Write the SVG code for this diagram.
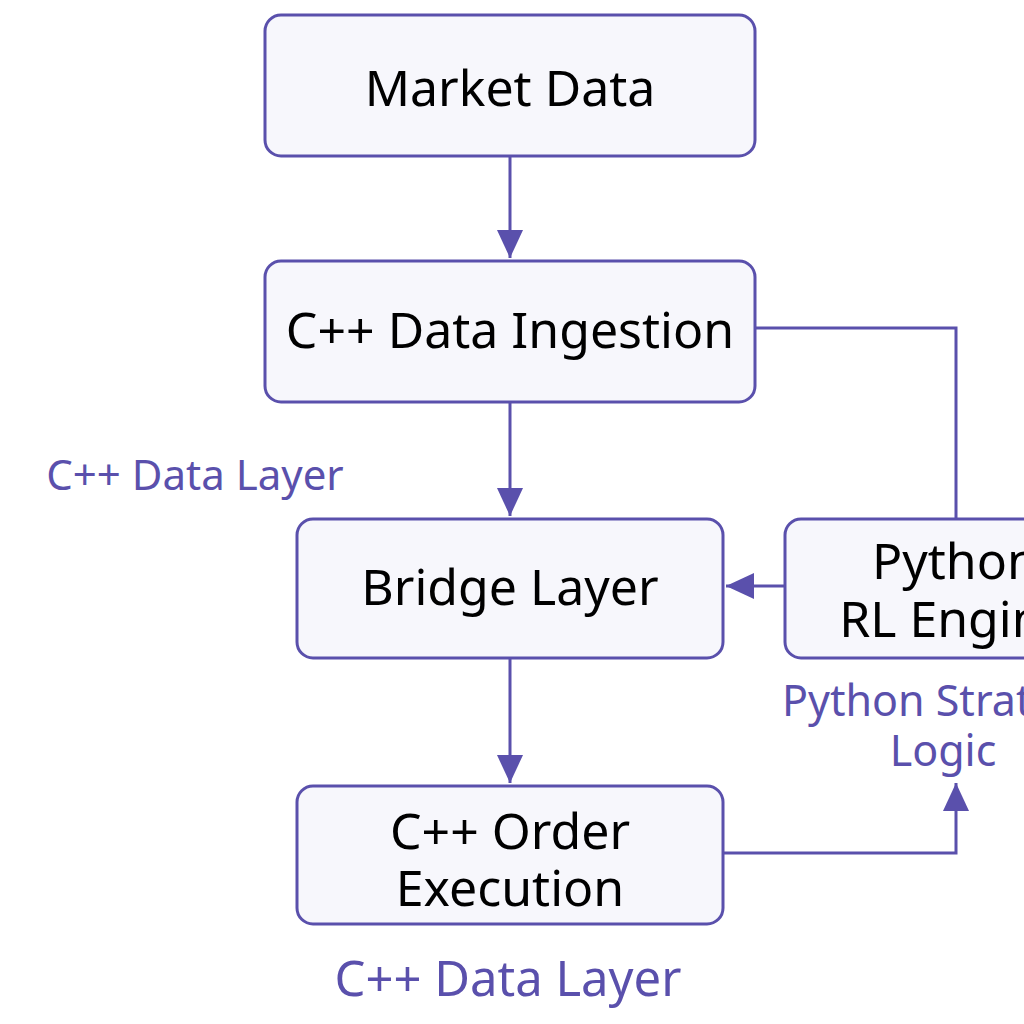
<svg xmlns="http://www.w3.org/2000/svg" width="1024" height="1024" viewBox="0 0 1024 1024">
<style>
.box{fill:#f7f7fc;stroke:#5a50ac;stroke-width:3}
.t{font-family:"Noto Sans","DejaVu Sans",sans-serif;font-size:50px;fill:#000;text-anchor:middle}
.lbl{font-family:"Noto Sans","DejaVu Sans",sans-serif;fill:#5a50ac;text-anchor:middle}
.c{fill:none;stroke:#5a50ac;stroke-width:3}
</style>
<defs>
<marker id="ah" viewBox="0 0 28 26" refX="28" refY="13" markerWidth="28" markerHeight="26" markerUnits="userSpaceOnUse" orient="auto">
<path d="M0,0 L28,13 L0,26 Z" fill="#5a50ac"/>
</marker>
</defs>
<rect width="1024" height="1024" fill="#fff"/>
<g id="connectors">
<line class="c" x1="510" y1="156" x2="510" y2="258" marker-end="url(#ah)"/>
<line class="c" x1="510" y1="402" x2="510" y2="516" marker-end="url(#ah)"/>
<line class="c" x1="510" y1="658" x2="510" y2="783" marker-end="url(#ah)"/>
<polyline class="c" points="755,328 956,328 956,519"/>
<line class="c" x1="785" y1="586" x2="726" y2="586" marker-end="url(#ah)"/>
<polyline class="c" points="723,853 956,853 956,783" marker-end="url(#ah)"/>
</g>
<g id="market-data">
<rect class="box" x="265" y="15" width="490" height="141" rx="16"/>
<text class="t" x="510" y="106" font-size="53.5">Market Data</text>
</g>
<g id="data-ingestion">
<rect class="box" x="265" y="261" width="490" height="141" rx="16"/>
<text class="t" x="510" y="348" font-size="49">C++ Data Ingestion</text>
</g>
<g id="bridge-layer">
<rect class="box" x="297" y="519" width="426" height="139" rx="16"/>
<text class="t" x="510" y="605" font-size="48.5">Bridge Layer</text>
</g>
<g id="rl-engine">
<rect class="box" x="785" y="519" width="340" height="139" rx="16"/>
<text class="t" x="955" y="579" font-size="51">Python</text>
<text class="t" x="955" y="637" font-size="51">RL Engine</text>
</g>
<g id="order-execution">
<rect class="box" x="297" y="786" width="426" height="138" rx="16"/>
<text class="t" x="510" y="849" font-size="52">C++ Order</text>
<text class="t" x="510" y="906" font-size="52">Execution</text>
</g>
<g id="labels">
<text class="lbl" x="195" y="490" font-size="42">C++ Data Layer</text>
<text class="lbl" x="943" y="716" font-size="43">Python Strategy</text>
<text class="lbl" x="943" y="766" font-size="43">Logic</text>
<text class="lbl" x="508" y="996" font-size="49">C++ Data Layer</text>
</g>
</svg>
